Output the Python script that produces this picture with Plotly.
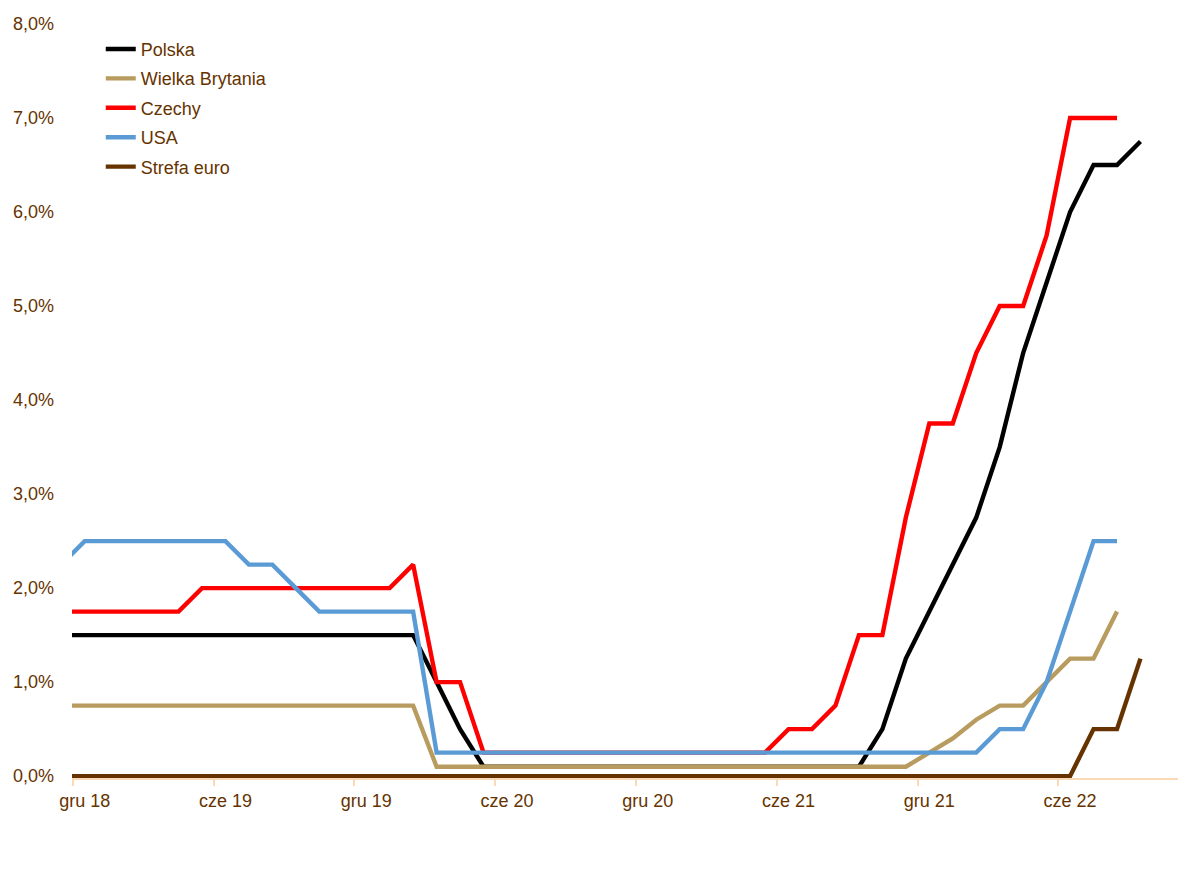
import plotly.graph_objects as go

# Monthly categories, Nov 2018 .. Sep 2022
months = [
    "lis 18", "gru 18",
    "sty 19", "lut 19", "mar 19", "kwi 19", "maj 19", "cze 19", "lip 19", "sie 19", "wrz 19", "paź 19", "lis 19", "gru 19",
    "sty 20", "lut 20", "mar 20", "kwi 20", "maj 20", "cze 20", "lip 20", "sie 20", "wrz 20", "paź 20", "lis 20", "gru 20",
    "sty 21", "lut 21", "mar 21", "kwi 21", "maj 21", "cze 21", "lip 21", "sie 21", "wrz 21", "paź 21", "lis 21", "gru 21",
    "sty 22", "lut 22", "mar 22", "kwi 22", "maj 22", "cze 22", "lip 22", "sie 22", "wrz 22",
]

polska = ([1.5] * 16 + [1.0, 0.5] + [0.1] * 17 +
          [0.5, 1.25, 1.75, 2.25, 2.75, 3.5, 4.5, 5.25, 6.0, 6.5, 6.5, 6.75])
wielka_brytania = ([0.75] * 16 + [0.1] * 21 +
                   [0.25, 0.4, 0.6, 0.75, 0.75, 1.0, 1.25, 1.25, 1.75, None])
czechy = ([1.75] * 6 + [2.0] * 9 + [2.25, 1.0, 1.0] + [0.25] * 13 +
          [0.5, 0.5, 0.75, 1.5, 1.5, 2.75, 3.75, 3.75, 4.5, 5.0, 5.0, 5.75, 7.0, 7.0, 7.0, None])
usa = ([2.25] + [2.5] * 7 + [2.25, 2.25, 2.0] + [1.75] * 5 + [0.25] * 24 +
       [0.5, 0.5, 1.0, 1.75, 2.5, 2.5, None])
strefa_euro = [0.0] * 44 + [0.5, 0.5, 1.25]

series_names = ["Polska", "Wielka Brytania", "Czechy", "USA", "Strefa euro"]
series_values = [polska, wielka_brytania, czechy, usa, strefa_euro]
series_colors = ["#000000", "#B89B5E", "#FF0000", "#5B9BD5", "#663300"]

x_tick_labels = ["gru 18", "cze 19", "gru 19", "cze 20", "gru 20", "cze 21", "gru 21", "cze 22"]
y_tick_values = [0, 1, 2, 3, 4, 5, 6, 7, 8]
y_tick_labels = ["0,0%", "1,0%", "2,0%", "3,0%", "4,0%", "5,0%", "6,0%", "7,0%", "8,0%"]

x_idx = list(range(len(months)))
x_tick_pos = [months.index(lbl) for lbl in x_tick_labels]

TEXT = "#663300"
AXIS = "#FCD9B6"
FONT = "Liberation Sans, Arial, sans-serif"

fig = go.Figure()
for name, vals, col in zip(series_names, series_values, series_colors):
    fig.add_trace(go.Scatter(
        x=x_idx, y=vals, name=name, mode="lines",
        line=dict(color=col, width=4.4), legendgroup=name,
    ))

fig.update_layout(
    width=1184, height=853,
    margin=dict(l=64, r=14, t=16, b=83),
    plot_bgcolor="white", paper_bgcolor="white",
    font=dict(family=FONT, size=18, color=TEXT),
    showlegend=True,
    legend=dict(
        x=0.026, y=0.991, xanchor="left", yanchor="top",
        font=dict(family=FONT, size=18, color=TEXT),
        bgcolor="rgba(0,0,0,0)", tracegroupgap=3,
    ),
)

fig.update_xaxes(
    automargin=False,
    range=[0.46, 47.6],
    tickmode="array", tickvals=x_tick_pos, ticktext=x_tick_labels,
    ticks="outside", ticklen=0, tickcolor=AXIS,
    tickfont=dict(family=FONT, size=18, color=TEXT),
    ticklabelstandoff=6,
    showgrid=False, zeroline=False,
    showline=True, linecolor=AXIS, linewidth=1.5,
    minor=dict(tick0=0.5, dtick=6, ticks="outside", ticklen=6,
               tickcolor=AXIS, tickwidth=1.5, showgrid=False),
)
fig.update_yaxes(
    automargin=False,
    range=[-0.02, 8],
    tickmode="array", tickvals=y_tick_values, ticktext=y_tick_labels,
    ticks="", showgrid=False, zeroline=False, showline=False,
    tickfont=dict(family=FONT, size=18, color=TEXT),
    ticklabelstandoff=17,
)

fig.write_html("out.html")
